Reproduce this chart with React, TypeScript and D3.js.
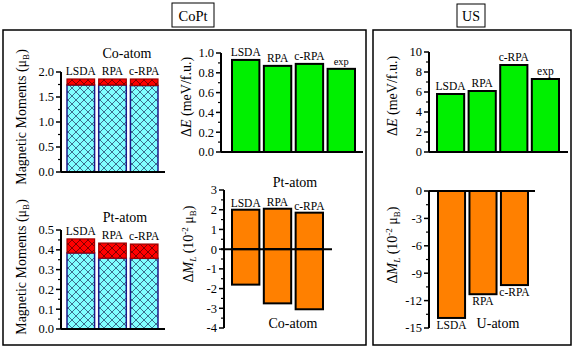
import * as d3 from 'd3'

const methods3 = ['LSDA', 'RPA', 'c-RPA']
const methods4 = ['LSDA', 'RPA', 'c-RPA', 'exp']

// CoPt magnetic moments (spin + orbital), mu_B
const coSpin = [1.74, 1.74, 1.73]
const coOrb = [0.12, 0.12, 0.13]
const ptSpin = [0.384, 0.358, 0.357]
const ptOrb = [0.071, 0.076, 0.072]
// anisotropy energy, meV/f.u.
const coptDE = [0.93, 0.87, 0.89, 0.84]
const usDE = [5.8, 6.1, 8.7, 7.3]
// orbital moment anisotropy, 10^-2 mu_B
const coptPtML = [2.0, 2.05, 1.85]
const coptCoML = [-1.8, -2.75, -3.05]
const usUML = [-13.9, -11.3, -10.3]

const coTicks = [0, 0.5, 1, 1.5, 2]
const ptTicks = [0, 0.1, 0.2, 0.3, 0.4, 0.5]
const deTicks = [0, 0.2, 0.4, 0.6, 0.8, 1]
const mlTicks = [-4, -3, -2, -1, 0, 1, 2, 3]
const usDeTicks = [0, 2, 4, 6, 8, 10]
const usMlTicks = [-15, -12, -9, -6, -3, 0]

const FONT = "'Liberation Serif', 'Times New Roman', Times, serif"

const YAxis = ({ x, y, ticks, fmt }: { x: number; y: any; ticks: number[]; fmt: (v: number) => string }) => {
  const minor = ticks.slice(1).map((t, i) => (t + ticks[i]) / 2)
  const [lo, hi] = d3.extent(ticks) as [number, number]
  return (
    <g>
      <line x1={x} x2={x} y1={y(lo)} y2={y(hi)} stroke="#000" strokeWidth={2} />
      {ticks.map((t) => (
        <g key={t}>
          <line x1={x - 5} x2={x} y1={y(t)} y2={y(t)} stroke="#000" strokeWidth={1.5} />
          <text x={x - 7} y={y(t)} dy="0.35em" textAnchor="end" fontSize={12.5}>
            {fmt(t)}
          </text>
        </g>
      ))}
      {minor.map((t) => (
        <line key={'m' + t} x1={x - 3} x2={x} y1={y(t)} y2={y(t)} stroke="#000" strokeWidth={1.2} />
      ))}
    </g>
  )
}

const f1 = (v: number) => v.toFixed(1)
const f0 = (v: number) => String(v)

const StackPanel = ({ ax, y, spin, orb, ticks, title, tx, ty }: any) => {
  const x = d3.scaleBand().domain(methods3).range([67, 158]).paddingInner(0.13)
  return (
    <g>
      {methods3.map((m, i) => (
        <g key={m}>
          <rect x={x(m)} width={x.bandwidth()} y={y(spin[i])} height={y(0) - y(spin[i])}
            fill="url(#hatchCyan)" stroke="#1a1a8c" strokeWidth={1.5} />
          <rect x={x(m)} width={x.bandwidth()} y={y(spin[i] + orb[i])} height={y(spin[i]) - y(spin[i] + orb[i])}
            fill="url(#hatchRed)" stroke="#a00000" strokeWidth={1.2} />
          <text x={(x(m) as number) + x.bandwidth() / 2} y={y(spin[i] + orb[i]) - 4} textAnchor="middle" fontSize={11.5}>
            {m}
          </text>
        </g>
      ))}
      <line x1={ax} x2={165} y1={y(0)} y2={y(0)} stroke="#000" strokeWidth={2} />
      <YAxis x={ax} y={y} ticks={ticks} fmt={f1} />
      <text x={tx} y={ty} textAnchor="middle" fontSize={14}>{title}</text>
    </g>
  )
}

const DETitle = ({ x, y }: { x: number; y: number }) => (
  <text transform={`translate(${x},${y}) rotate(-90)`} textAnchor="middle" fontSize={14}>
    Δ<tspan fontStyle="italic">E</tspan> (meV/f.u.)
  </text>
)

const MLTitle = ({ x, y }: { x: number; y: number }) => (
  <text transform={`translate(${x},${y}) rotate(-90)`} textAnchor="middle" fontSize={14}>
    Δ<tspan fontStyle="italic">M</tspan>
    <tspan fontStyle="italic" fontSize={9} dy={3}>L</tspan>
    <tspan dy={-3}> (10</tspan>
    <tspan fontSize={9} dy={-5}>-2</tspan>
    <tspan dy={5}> μ</tspan>
    <tspan fontSize={9} dy={3}>B</tspan>
    <tspan dy={-3}>)</tspan>
  </text>
)

const MomTitle = ({ x, y }: { x: number; y: number }) => (
  <text transform={`translate(${x},${y}) rotate(-90)`} textAnchor="middle" fontSize={14}>
    Magnetic Moments (μ<tspan fontSize={9} dy={3}>B</tspan>
    <tspan dy={-3}>)</tspan>
  </text>
)

const App = () => {
  // CoPt moments
  const yCo = d3.scaleLinear().domain([0, 2]).range([172, 72])
  const yPt = d3.scaleLinear().domain([0, 0.5]).range([329, 230])
  // CoPt energies and orbital anisotropy
  const xDE = d3.scaleBand().domain(methods4).range([232, 355]).paddingInner(0.14)
  const yDE = d3.scaleLinear().domain([0, 1]).range([152, 53])
  const xML = d3.scaleBand().domain(methods3).range([232, 323]).paddingInner(0.14)
  const yML = d3.scaleLinear().domain([-4, 3]).range([328, 190])
  // US
  const xUD = d3.scaleBand().domain(methods4).range([437, 559]).paddingInner(0.14)
  const yUD = d3.scaleLinear().domain([0, 10]).range([152, 52])
  const xUM = d3.scaleBand().domain(methods3).range([438, 528]).paddingInner(0.14)
  const yUM = d3.scaleLinear().domain([-15, 0]).range([328, 191])

  const mid = (x: any, m: string) => (x(m) as number) + x.bandwidth() / 2

  return (
    <svg width={575} height={349} style={{ position: 'absolute', left: 0, top: 0, background: '#fff', fontFamily: FONT }}>
      <style>{`text, tspan { font-family: ${FONT}; }`}</style>
      <defs>
        <pattern id="hatchCyan" patternUnits="userSpaceOnUse" width={8} height={8}>
          <rect width={8} height={8} fill="#80ffff" />
          <path d="M0,0L8,8M8,0L0,8" stroke="#2b4a70" strokeWidth={0.8} />
        </pattern>
        <pattern id="hatchRed" patternUnits="userSpaceOnUse" width={8} height={8}>
          <rect width={8} height={8} fill="#ff0000" />
          <path d="M0,0L8,8M8,0L0,8" stroke="#600000" strokeWidth={0.8} />
        </pattern>
      </defs>

      {/* frames */}
      <rect x={3} y={30} width={363} height={315} fill="none" stroke="#000" strokeWidth={1.5} />
      <rect x={373} y={30} width={198} height={315} fill="none" stroke="#000" strokeWidth={1.5} />
      <rect x={172} y={3} width={42} height={24} fill="#fff" stroke="#000" strokeWidth={1} />
      <text x={193} y={21} textAnchor="middle" fontSize={14.5}>CoPt</text>
      <rect x={457} y={4} width={28} height={23} fill="#fff" stroke="#000" strokeWidth={1} />
      <text x={471} y={21} textAnchor="middle" fontSize={14}>US</text>

      {/* CoPt moments */}
      <StackPanel ax={61} y={yCo} spin={coSpin} orb={coOrb} ticks={coTicks} title="Co-atom" tx={127} ty={58} />
      <StackPanel ax={61} y={yPt} spin={ptSpin} orb={ptOrb} ticks={ptTicks} title="Pt-atom" tx={125} ty={222} />
      <MomTitle x={26} y={117} />
      <MomTitle x={26} y={267} />

      {/* CoPt dE */}
      {methods4.map((m, i) => (
        <g key={m}>
          <rect x={xDE(m)} width={xDE.bandwidth()} y={yDE(coptDE[i])} height={yDE(0) - yDE(coptDE[i])}
            fill="#00f000" stroke="#000" strokeWidth={2} />
          <text x={mid(xDE, m)} y={yDE(coptDE[i]) - 4} textAnchor="middle" fontSize={m === 'exp' ? 10.5 : 11.5}>{m}</text>
        </g>
      ))}
      <line x1={221} x2={363} y1={yDE(0)} y2={yDE(0)} stroke="#000" strokeWidth={2} />
      <YAxis x={221} y={yDE} ticks={deTicks} fmt={f1} />
      <DETitle x={191} y={97} />

      {/* CoPt dML */}
      {methods3.map((m, i) => (
        <g key={m}>
          <rect x={xML(m)} width={xML.bandwidth()} y={yML(coptPtML[i])} height={yML(0) - yML(coptPtML[i])}
            fill="#ff8000" stroke="#000" strokeWidth={2} />
          <rect x={xML(m)} width={xML.bandwidth()} y={yML(0)} height={yML(coptCoML[i]) - yML(0)}
            fill="#ff8000" stroke="#000" strokeWidth={2} />
          <text x={mid(xML, m)} y={yML(coptPtML[i]) - 3} textAnchor="middle" fontSize={11.5}>{m}</text>
        </g>
      ))}
      <line x1={221} x2={332} y1={yML(0)} y2={yML(0)} stroke="#000" strokeWidth={2} />
      <YAxis x={224} y={yML} ticks={mlTicks} fmt={f0} />
      <text x={295} y={187} textAnchor="middle" fontSize={14}>Pt-atom</text>
      <text x={293} y={328} textAnchor="middle" fontSize={14}>Co-atom</text>
      <MLTitle x={193} y={244} />

      {/* US dE */}
      {methods4.map((m, i) => (
        <g key={m}>
          <rect x={xUD(m)} width={xUD.bandwidth()} y={yUD(usDE[i])} height={yUD(0) - yUD(usDE[i])}
            fill="#00f000" stroke="#000" strokeWidth={2} />
          <text x={mid(xUD, m)} y={yUD(usDE[i]) - 4} textAnchor="middle" fontSize={11.5}>{m}</text>
        </g>
      ))}
      <line x1={429} x2={568} y1={yUD(0)} y2={yUD(0)} stroke="#000" strokeWidth={2} />
      <YAxis x={429} y={yUD} ticks={usDeTicks} fmt={f0} />
      <DETitle x={397} y={96} />

      {/* US dML */}
      {methods3.map((m, i) => (
        <g key={m}>
          <rect x={xUM(m)} width={xUM.bandwidth()} y={yUM(0)} height={yUM(usUML[i]) - yUM(0)}
            fill="#ff8000" stroke="#000" strokeWidth={2} />
          <text x={mid(xUM, m)} y={yUM(usUML[i]) + 11} textAnchor="middle" fontSize={11.5}>{m}</text>
        </g>
      ))}
      <line x1={429} x2={535} y1={yUM(0)} y2={yUM(0)} stroke="#000" strokeWidth={2} />
      <YAxis x={429} y={yUM} ticks={usMlTicks} fmt={f0} />
      <text x={498} y={328} textAnchor="middle" fontSize={14}>U-atom</text>
      <MLTitle x={397} y={245} />
    </svg>
  )
}

export default App
